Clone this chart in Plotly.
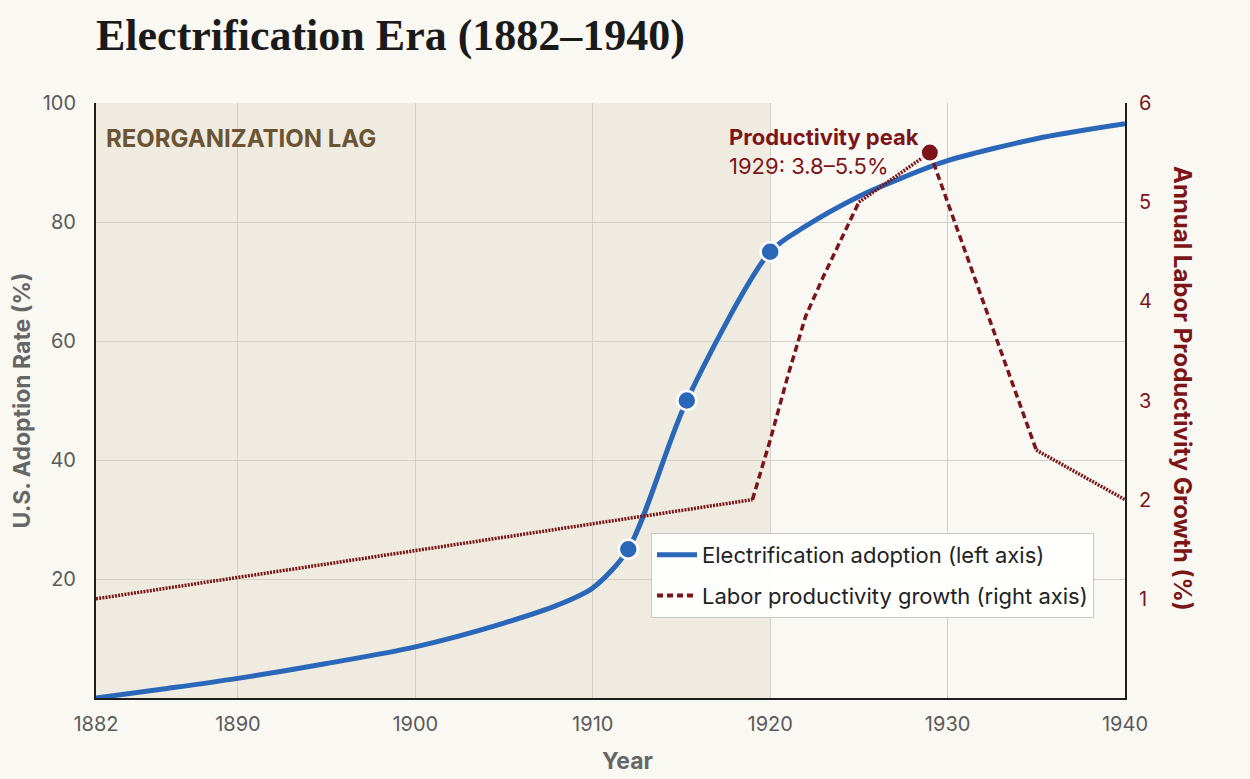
import plotly.graph_objects as go

# Electrification adoption (%), left axis
elec_years = [1882, 1886, 1890, 1895, 1900, 1905, 1908, 1910, 1912, 1915.3,
              1920, 1922, 1925, 1927.5, 1930, 1935, 1940]
elec_vals = [0, 1.6, 3.3, 5.8, 8.6, 12.6, 15.6, 18.5, 25, 50,
             75, 79.3, 84.3, 87.5, 90.3, 94.0, 96.5]

# highlighted adoption milestones
mile_years = [1912, 1915.3, 1920]
mile_vals = [25, 50, 75]

# Annual labor productivity growth (%), right axis
prod_years = [1882, 1919, 1920, 1921, 1922, 1923, 1924, 1925, 1929, 1935, 1940]
prod_vals = [1.0, 2.0, 2.6, 3.25, 3.85, 4.25, 4.62, 5.0, 5.5, 2.5, 2.0]

peak_year = 1929
peak_val = 5.5

x_ticks = [1882, 1890, 1900, 1910, 1920, 1930, 1940]
y_ticks = [20, 40, 60, 80, 100]
y2_ticks = [1, 2, 3, 4, 5, 6]

BLUE = "#2a67b9"
RED = "#7b1518"
BG = "#faf8f3"
SHADE = "#f0ebe0"
GRID = "#d3cfc8"
FONT = "Inter"

fig = go.Figure()

fig.add_trace(go.Scatter(
    x=elec_years, y=elec_vals, mode="lines",
    line=dict(color=BLUE, width=5, shape="spline", smoothing=0.8),
    name="Electrification adoption (left axis)", legendgroup="a",
))
fig.add_trace(go.Scatter(
    x=mile_years, y=mile_vals, mode="markers",
    marker=dict(color=BLUE, size=19, line=dict(color="white", width=2.5)),
    showlegend=False, hoverinfo="skip",
))

# legend entry for the productivity line
fig.add_trace(go.Scatter(
    x=[None], y=[None], mode="lines", yaxis="y2",
    line=dict(color=RED, width=4, dash="6px,4px"),
    name="Labor productivity growth (right axis)", legendgroup="b",
))

# shallow stretches look densely dotted, steep stretches dashed
plot_w, plot_h = 1029, 595


def is_steep(i):
    dy = (prod_vals[i + 1] - prod_vals[i]) / 6 * plot_h
    dx = (prod_years[i + 1] - prod_years[i]) / 58 * plot_w
    return abs(dy / dx) > 1.2


groups = []
start = 0
for i in range(1, len(prod_years) - 1):
    if is_steep(i) != is_steep(start):
        groups.append((start, i))
        start = i
groups.append((start, len(prod_years) - 1))

for a, b in groups:
    fig.add_trace(go.Scatter(
        x=prod_years[a:b + 1], y=prod_vals[a:b + 1], mode="lines", yaxis="y2",
        line=dict(color=RED, width=3.5, dash="7px,4px" if is_steep(a) else "2px,1.2px"),
        showlegend=False, hoverinfo="skip",
    ))

fig.add_trace(go.Scatter(
    x=[peak_year], y=[peak_val], mode="markers", yaxis="y2",
    marker=dict(color=RED, size=18, line=dict(color="white", width=2)),
    showlegend=False, hoverinfo="skip",
))

fig.add_shape(type="rect", xref="x", yref="paper", x0=1882, x1=1920, y0=0, y1=1,
              fillcolor=SHADE, line_width=0, layer="below")

fig.add_annotation(
    x=1882, y=100, xref="x", yref="y", xanchor="left", yanchor="top",
    xshift=8, yshift=-19, showarrow=False,
    text="<b>REORGANIZATION LAG</b>",
    font=dict(family=FONT, size=24, color="#6b5434"),
)
fig.add_annotation(
    x=peak_year, y=peak_val, xref="x", yref="y2", xanchor="right", yanchor="middle",
    xshift=-9, yshift=1, showarrow=False, align="left",
    text="<b>Productivity peak</b><br>1929: 3.8–5.5%",
    font=dict(family=FONT, size=22, color=RED),
)
# axis titles placed by hand so the plot area stays fixed
fig.add_annotation(
    x=(1183 - 96) / 1029, y=(698 - 388) / 595, xref="paper", yref="paper",
    xanchor="center", yanchor="middle", showarrow=False, textangle=90,
    text="<b>Annual Labor Productivity Growth (%)</b>",
    font=dict(family=FONT, size=24, color=RED),
)
fig.add_annotation(
    x=(627 - 96) / 1029, y=(698 - 761) / 595, xref="paper", yref="paper",
    xanchor="center", yanchor="middle", showarrow=False,
    text="<b>Year</b>",
    font=dict(family=FONT, size=23, color="#666"),
)

fig.update_layout(
    width=1250, height=779,
    margin=dict(l=96, r=125, t=103, b=81),
    paper_bgcolor=BG, plot_bgcolor=BG,
    font=dict(family=FONT, color="#555"),
    title=dict(
        text="<b>Electrification Era (1882–1940)</b>",
        x=96 / 1250, xref="container", xanchor="left",
        y=1 - 35 / 779, yref="container", yanchor="middle",
        font=dict(family="Liberation Serif", size=44, color="#1a1a1a"),
    ),
    xaxis=dict(
        range=[1882, 1940], tickvals=x_ticks, automargin=False,
        showgrid=True, gridcolor=GRID, gridwidth=1,
        showline=True, linecolor="#1e1e1e", linewidth=2,
        ticks="", ticklabelstandoff=7, tickfont=dict(size=20, color="#5a5a5a"),
        zeroline=False,
    ),
    yaxis=dict(
        range=[0, 100], tickvals=y_ticks, automargin=False,
        showgrid=True, gridcolor=GRID, gridwidth=1,
        showline=True, linecolor="#1e1e1e", linewidth=2,
        ticks="", ticklabelstandoff=14, tickfont=dict(size=20, color="#5a5a5a"),
        title=dict(text="<b>U.S. Adoption Rate (%)</b>", font=dict(size=23, color="#666"), standoff=6),
        zeroline=False,
    ),
    yaxis2=dict(
        range=[0, 6], tickvals=y2_ticks, overlaying="y", side="right", automargin=False,
        showgrid=False, showline=True, linecolor="#1e1e1e", linewidth=2,
        ticks="", ticklabelstandoff=8, tickfont=dict(size=20, color=RED), zeroline=False,
    ),
    legend=dict(
        x=(651 - 96) / 1029, y=(698 - 533) / 595, xanchor="left", yanchor="top",
        bgcolor="rgba(255,255,255,0.92)", bordercolor="#c8c8c8", borderwidth=1,
        font=dict(family=FONT, size=22, color="#222"),
        itemwidth=40, tracegroupgap=9,
    ),
)

# drop the default page margin so the figure fills the window
page_fix = (
    "document.body.style.margin='0';"
    "document.body.style.background='%s';"
    "document.documentElement.style.overflow='hidden';" % BG
)
fig.write_html("out.html", post_script=page_fix, config={"displayModeBar": False})
